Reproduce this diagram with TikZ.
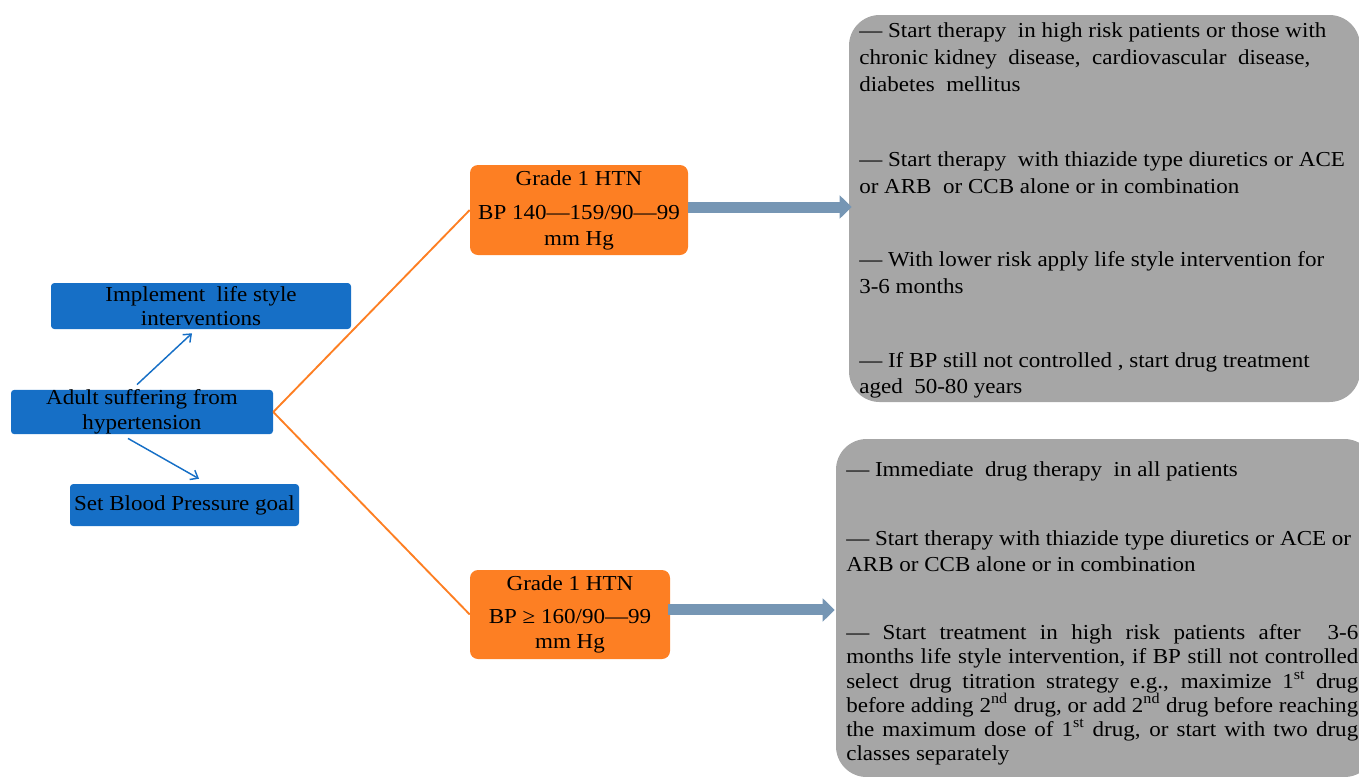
\documentclass[tikz,border=0pt]{standalone}
\usepackage{fontspec}
\setmainfont{Liberation Serif}[FakeStretch=1.08]
\usetikzlibrary{arrows.meta}
\definecolor{boxblue}{RGB}{22,111,198}
\definecolor{boxorange}{RGB}{253,127,35}
\definecolor{boxgray}{RGB}{166,166,166}
\definecolor{arrowsteel}{RGB}{118,150,180}
\begin{document}
\begin{tikzpicture}[x=0.75pt,y=-0.75pt,
  bluebox/.style={fill=boxblue, rounded corners=2.5pt, inner sep=0pt, align=center, font=\fontsize{16}{18.5}\selectfont},
  orangebox/.style={fill=boxorange, rounded corners=6pt, inner sep=0pt, align=center, font=\fontsize{16}{19}\selectfont},
  graybox/.style={fill=boxgray, rounded corners=23pt, inner sep=0pt},
  txt/.style={anchor=base west, inner sep=0pt, font=\fontsize{16}{18}\selectfont},
  bluearrow/.style={draw=boxblue, line width=1.1pt, -{Straight Barb[length=5pt,width=8pt]}},
  orangeline/.style={draw=boxorange, line width=1.4pt},
  fatarrow/.style={draw=arrowsteel, line width=8.25pt, -{Triangle[length=9pt,width=17pt]}}
]
\useasboundingbox (0,0) rectangle (1359,776);
\begin{scope}
\clip (0,0) rectangle (1359,776);
\node[graybox, minimum width=383.25pt, minimum height=290.25pt] (g1) at (1104.5,208.5) {};
\node[graybox, minimum width=404.25pt, minimum height=253.5pt] (g2) at (1105.5,608) {};
\end{scope}

% blue boxes
\node[bluebox, minimum width=225pt, minimum height=34.5pt] (b1) at (201,306) {Implement \ life style\\interventions};
\node[bluebox, minimum width=196.5pt, minimum height=33pt] (b2) at (142,412) {Adult suffering from\\hypertension};
\node[bluebox, minimum width=171.75pt, minimum height=31.5pt] (b3) at (184.5,505) {Set Blood Pressure goal};

% orange boxes
\node[orangebox, minimum width=163.5pt, minimum height=67.5pt] (o1) at (579,210) {Grade 1 HTN\\[7pt]BP 140—159/90—99\\mm Hg};
\node[orangebox, minimum width=150pt, minimum height=66.75pt] (o2) at (570,614.5) {Grade 1 HTN\\[6pt]BP ≥ 160/90—99\\mm Hg};

% connectors
\draw[bluearrow] ([xshift=-3.75pt,yshift=3.75pt]b2.north) -- ([xshift=-6.75pt,yshift=-3pt]b1.south);
\draw[bluearrow] ([xshift=-10.5pt,yshift=-3pt]b2.south) -- ([xshift=10.9pt,yshift=3.75pt]b3.north);
\draw[orangeline] (b2.east) -- (o1.west);
\draw[orangeline] (b2.east) -- (o2.west);
\draw[fatarrow, shorten >=-2.25pt] ([yshift=2.25pt]o1.east) -- ([yshift=2.25pt]o1.east -| g1.west);
\draw[fatarrow, shorten <=-1.5pt, shorten >=0.75pt] ([yshift=3.4pt]o2.east) -- ([yshift=3.4pt]o2.east -| g2.west);

% text of gray box 1
\node[txt] (t11) at (859,37) {— Start therapy \ in high risk patients or those with};
\node[txt] (t12) at (859,64) {chronic kidney \ disease, \ cardiovascular \ disease,};
\node[txt] (t13) at (859,91) {diabetes \ mellitus};
\node[txt] (t14) at (859,166) {— Start therapy \ with thiazide type diuretics or ACE};
\node[txt] (t15) at (859,193) {or ARB \ or CCB alone or in combination};
\node[txt] (t16) at (859,266) {— With lower risk apply life style intervention for};
\node[txt] (t17) at (859,293) {3-6 months};
\node[txt] (t18) at (859,367) {— If BP still not controlled , start drug treatment};
\node[txt] (t19) at (859,393) {aged \ 50-80 years};

% text of gray box 2
\node[txt] (t21) at (846,476) {— Immediate \ drug therapy \ in all patients};
\node[txt] (t22) at (846,545) {— Start therapy with thiazide type diuretics or ACE or};
\node[txt] (t23) at (846,571) {ARB or CCB alone or in combination};
\begin{scope}
\clip (0,0) rectangle (1359,776);
\node[txt] (t24) at (846,639) {\makebox[384pt][s]{— Start treatment in high risk patients after \ 3-6}};
\node[txt] (t25) at (846,663) {\makebox[384pt][s]{months life style intervention, if BP still not controlled}};
\node[txt] (t26) at (846,688) {\makebox[384pt][s]{select drug titration strategy e.g., maximize 1\textsuperscript{st} drug}};
\node[txt] (t27) at (846,712) {\makebox[384pt][s]{before adding 2\textsuperscript{nd} drug, or add 2\textsuperscript{nd} drug before reaching}};
\node[txt] (t28) at (846,736) {\makebox[384pt][s]{the maximum dose of 1\textsuperscript{st} drug, or start with two drug}};
\node[txt] (t29) at (846,760) {classes separately};
\end{scope}
\end{tikzpicture}
\end{document}
